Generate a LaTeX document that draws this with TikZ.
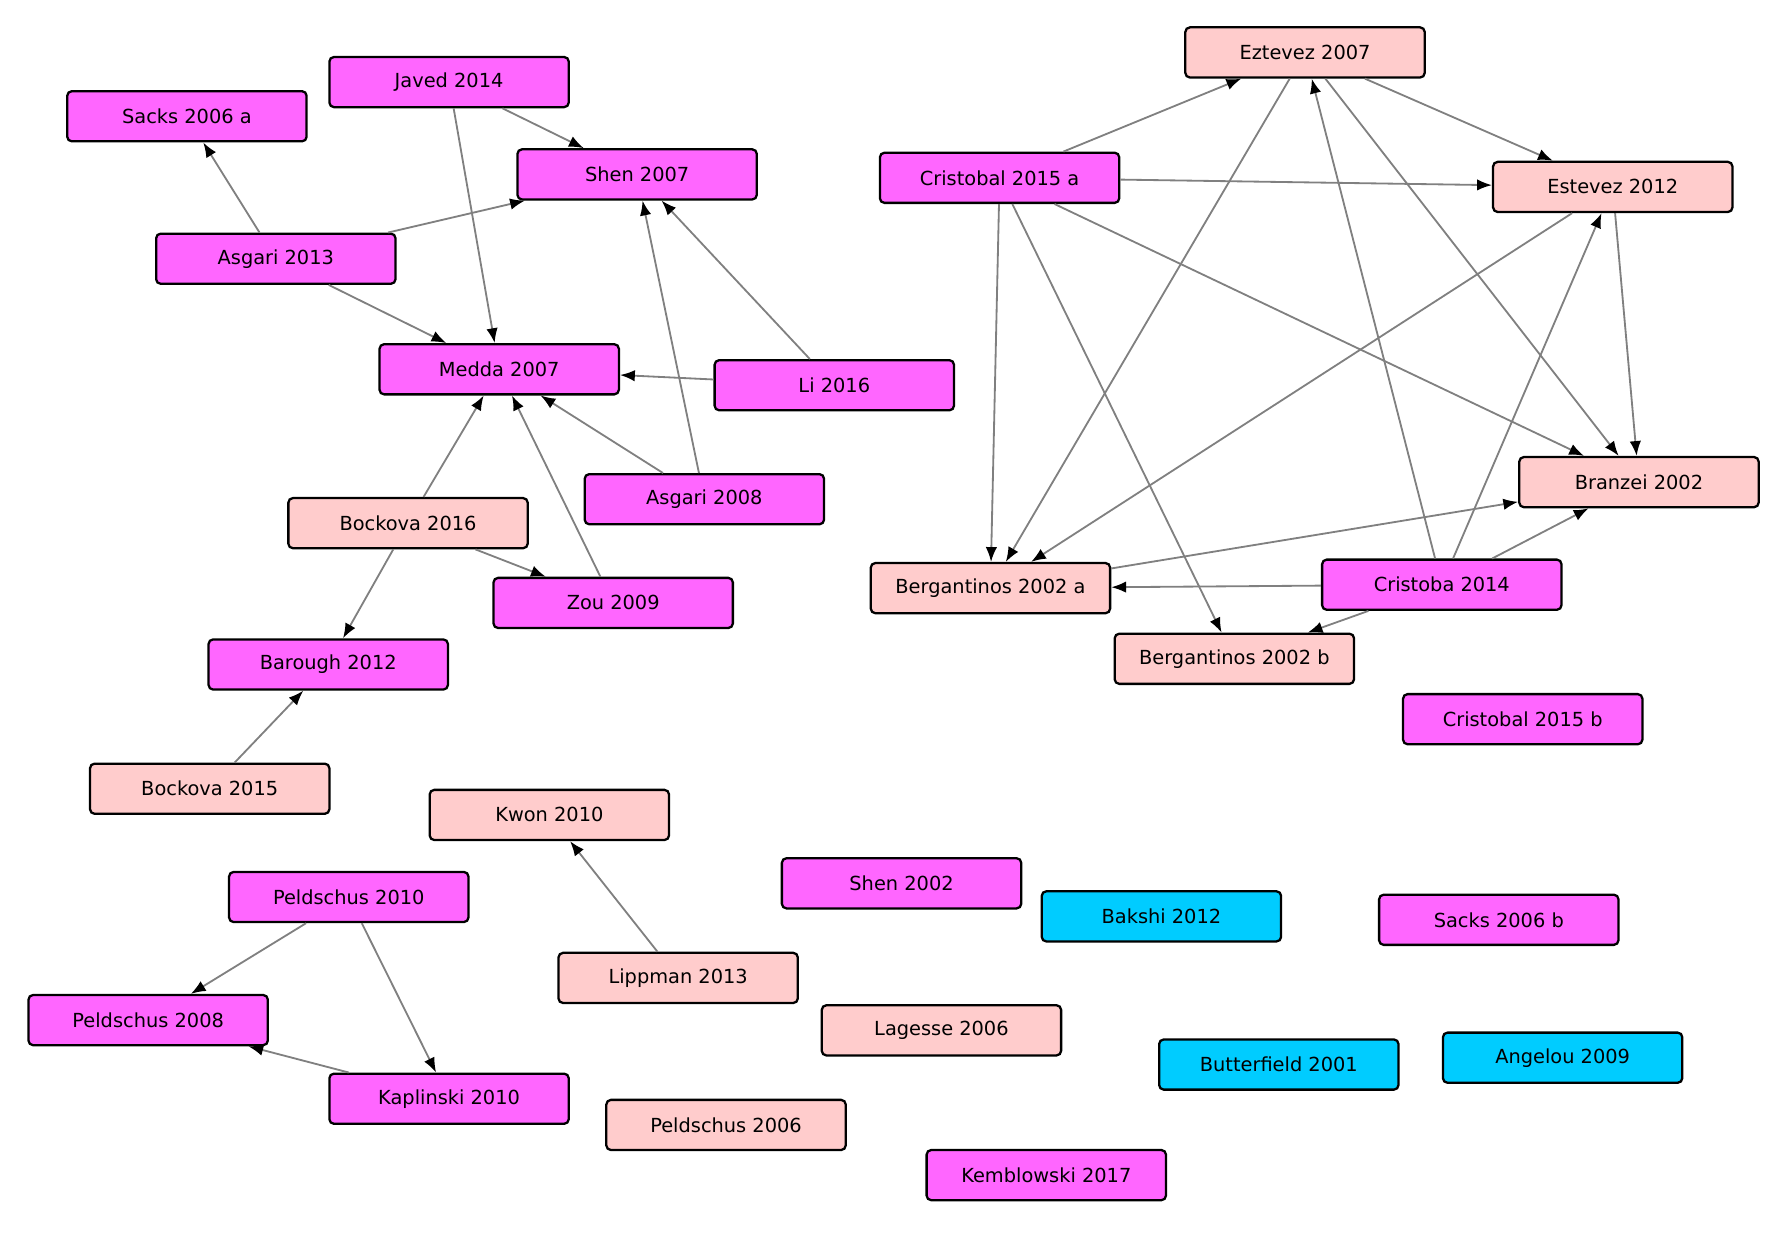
\documentclass[tikz,border=0pt]{standalone}
\usepackage{fontspec}
\setmainfont{DejaVu Sans}
\usetikzlibrary{arrows.meta}
\definecolor{mag}{HTML}{FF66FF}
\definecolor{lp}{HTML}{FFCCCC}
\definecolor{cy}{HTML}{00CCFF}
\begin{document}
\begin{tikzpicture}[x=1pt,y=-1pt,
  b/.style={draw=black,line width=2pt,rounded corners=4pt,minimum width=210pt,minimum height=44pt,inner sep=0pt,font=\fontsize{17}{20}\selectfont},
  m/.style={b,fill=mag},l/.style={b,fill=lp},c/.style={b,fill=cy},
  e/.style={draw=gray,line width=1.6pt,-{Latex[length=13pt,width=10pt,color=black]}}]
\useasboundingbox (0,0) rectangle (1567,1082);
\node[m] (sa) at (164,102) {Sacks 2006 a};
\node[m] (ja) at (394,72) {Javed 2014};
\node[m] (s7) at (559,153) {Shen 2007};
\node[m] (a13) at (242,227) {Asgari 2013};
\node[m] (me) at (438,324) {Medda 2007};
\node[m] (li) at (732,338) {Li 2016};
\node[m] (a08) at (618,438) {Asgari 2008};
\node[l] (b16) at (358,459) {Bockova 2016};
\node[m] (zo) at (538,529) {Zou 2009};
\node[m] (ba) at (288,583) {Barough 2012};
\node[l] (b15) at (184,692) {Bockova 2015};
\node[l] (kw) at (482,715) {Kwon 2010};
\node[m] (p10) at (306,787) {Peldschus 2010};
\node[m] (p08) at (130,895) {Peldschus 2008};
\node[m] (ka) at (394,964) {Kaplinski 2010};
\node[l] (lip) at (595,858) {Lippman 2013};
\node[m] (s02) at (791,775) {Shen 2002};
\node[c] (bk) at (1019,804) {Bakshi 2012};
\node[m] (sb) at (1315,807) {Sacks 2006 b};
\node[l] (lg) at (826,904) {Lagesse 2006};
\node[c] (bu) at (1122,934) {Butterfield 2001};
\node[c] (an) at (1371,928) {Angelou 2009};
\node[l] (p06) at (637,987) {Peldschus 2006};
\node[m] (ke) at (918,1031) {Kemblowski 2017};
\node[l] (ez) at (1145,46) {Eztevez 2007};
\node[m] (ca) at (877,156) {Cristobal 2015 a};
\node[l] (es) at (1415,164) {Estevez 2012};
\node[l] (br) at (1438,423) {Branzei 2002};
\node[l] (bga) at (869,516) {Bergantinos 2002 a};
\node[m] (c14) at (1265,513) {Cristoba 2014};
\node[l] (bgb) at (1083,578) {Bergantinos 2002 b};
\node[m] (cb) at (1336,631) {Cristobal 2015 b};
\begin{scope}[on background layer/.style={}]
\foreach \a/\b in {a13/sa,a13/s7,a13/me,ja/s7,ja/me,li/s7,li/me,a08/s7,a08/me,b16/me,b16/zo,b16/ba,zo/me,b15/ba,lip/kw,p10/p08,p10/ka,ka/p08,ca/ez,ca/es,ca/bga,ca/bgb,ca/br,ez/es,ez/br,ez/bga,es/br,es/bga,c14/ez,c14/es,c14/br,c14/bga,c14/bgb,bga/br}
  \draw[e] (\a) -- (\b);
\end{scope}
\end{tikzpicture}
\end{document}
